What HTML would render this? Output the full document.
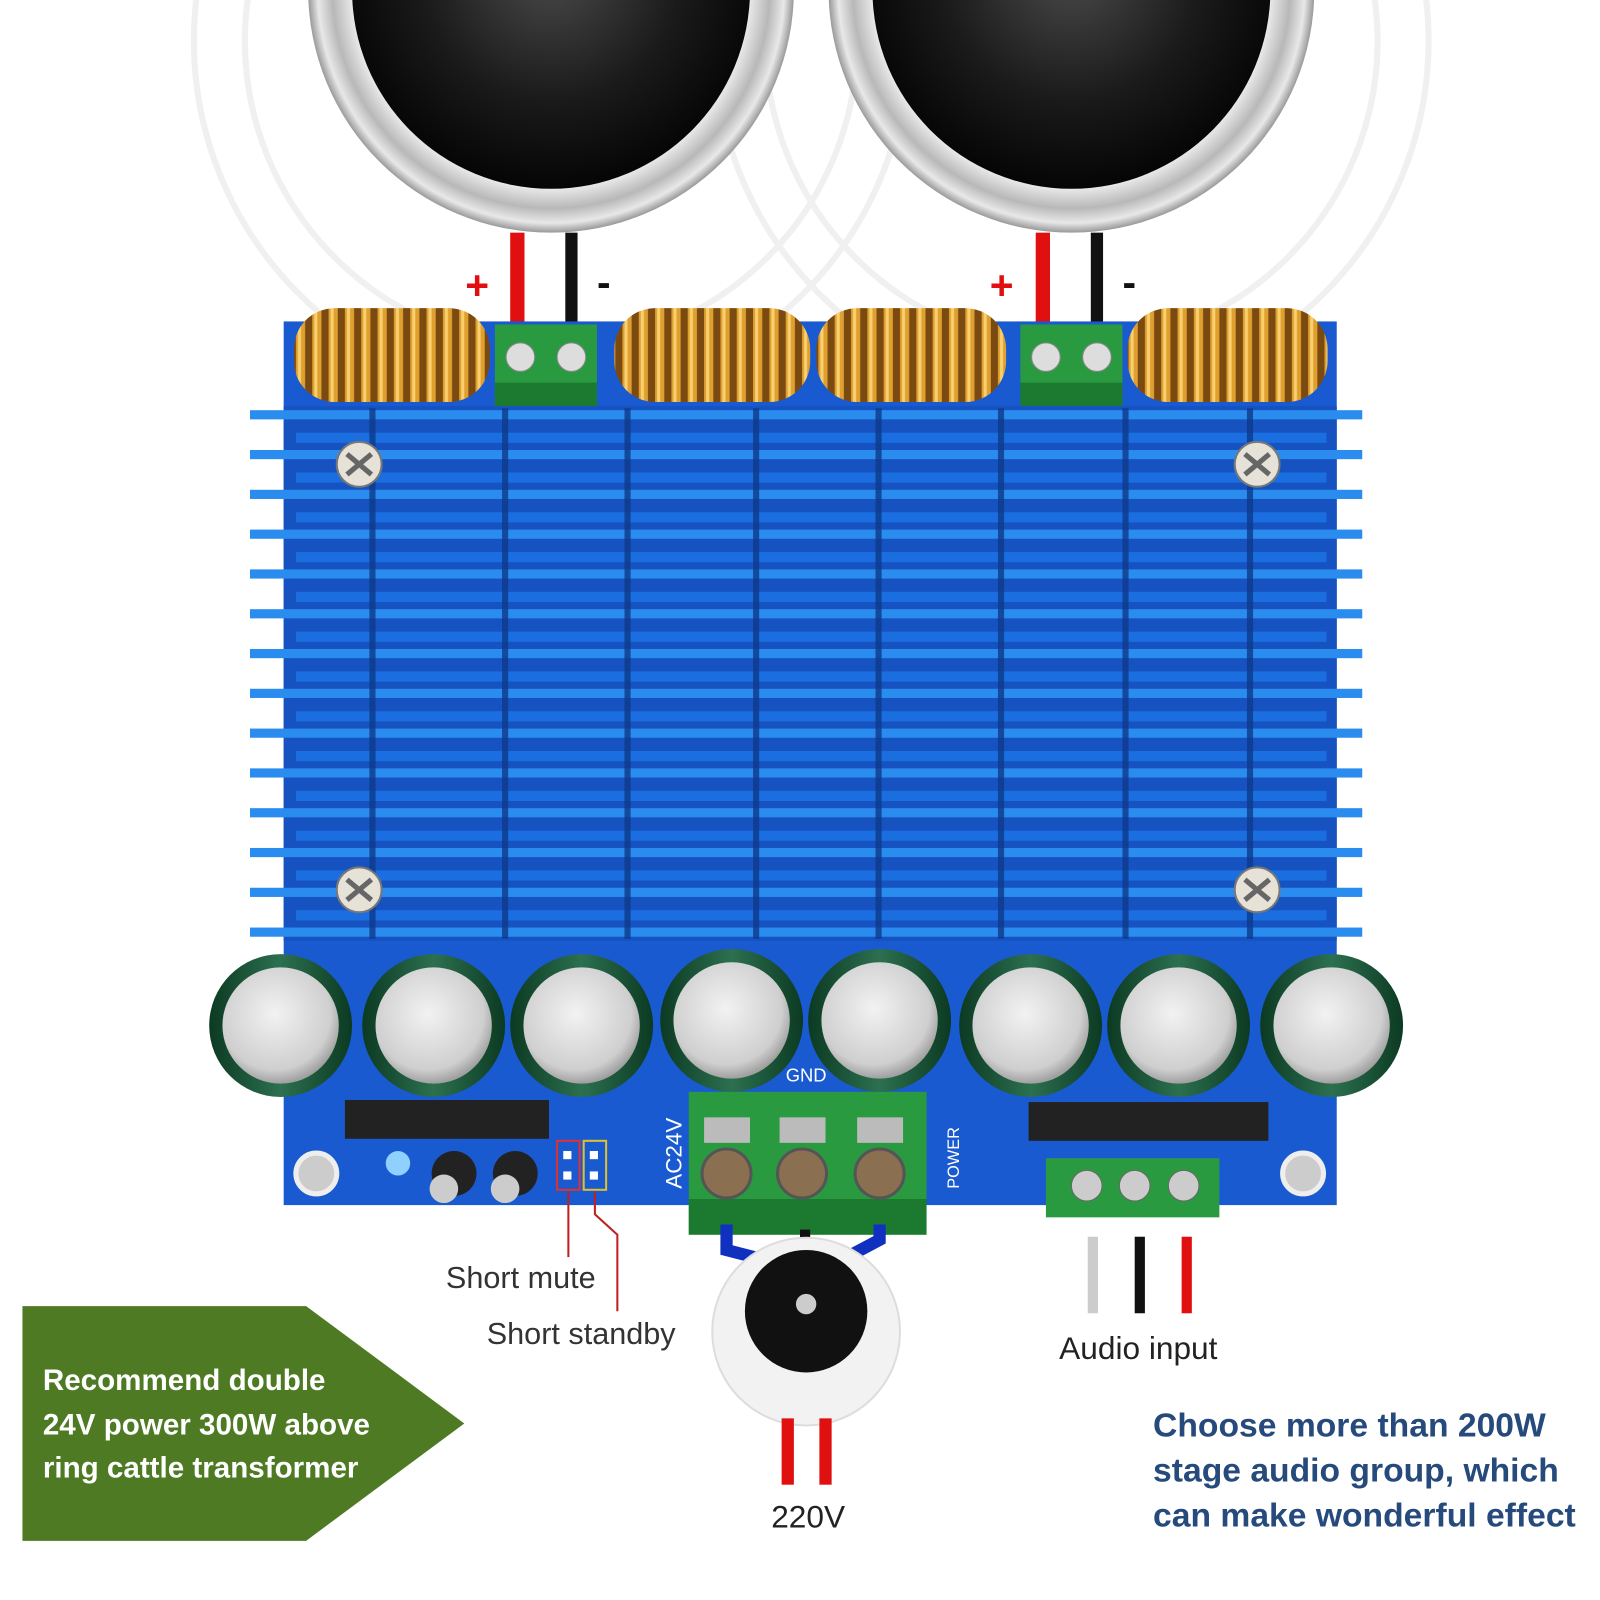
<!DOCTYPE html>
<html><head><meta charset="utf-8"><style>
html,body{margin:0;padding:0;background:#fff;}
svg{display:block;}
text{font-family:"Liberation Sans",sans-serif;}
</style></head><body>
<svg width="1600" height="1600" viewBox="0 0 1568 1568" xmlns="http://www.w3.org/2000/svg">
<defs>
<radialGradient id="cone" cx="50%" cy="45%" r="55%"><stop offset="0" stop-color="#4a4a4a"/><stop offset="0.6" stop-color="#1a1a1a"/><stop offset="1" stop-color="#050505"/></radialGradient>
<radialGradient id="ring" cx="50%" cy="50%" r="50%"><stop offset="0.8" stop-color="#f4f4f4"/><stop offset="0.9" stop-color="#b8b8b8"/><stop offset="0.96" stop-color="#e8e8e8"/><stop offset="1" stop-color="#999"/></radialGradient>
<radialGradient id="cap" cx="45%" cy="40%" r="60%"><stop offset="0" stop-color="#f2f2f2"/><stop offset="0.8" stop-color="#cfcfcf"/><stop offset="1" stop-color="#a0a0a0"/></radialGradient>
<linearGradient id="capside" x1="0" x2="1"><stop offset="0" stop-color="#0c3a22"/><stop offset="0.5" stop-color="#2c7050"/><stop offset="1" stop-color="#0c3a22"/></linearGradient>
<pattern id="coil" width="16" height="20" patternUnits="userSpaceOnUse"><rect width="16" height="20" fill="#7a4a10"/><rect x="2" width="9" height="20" fill="#e0a030"/><rect x="4" width="3" height="20" fill="#f8d070"/></pattern>
</defs>

<g fill="none" stroke="#f0f0f0" stroke-width="6">
<circle cx="540" cy="40" r="300"/><circle cx="540" cy="40" r="350"/>
<circle cx="1050" cy="40" r="300"/><circle cx="1050" cy="40" r="350"/>
</g>

<circle cx="540" cy="-10" r="238" fill="url(#ring)"/>
<circle cx="540" cy="-10" r="195" fill="url(#cone)"/>
<circle cx="1050" cy="-10" r="238" fill="url(#ring)"/>
<circle cx="1050" cy="-10" r="195" fill="url(#cone)"/>

<rect x="500" y="228" width="14" height="92" fill="#e01010"/>
<rect x="554" y="228" width="12" height="92" fill="#111"/>
<rect x="1015" y="228" width="14" height="92" fill="#e01010"/>
<rect x="1069" y="228" width="12" height="92" fill="#111"/>
<text x="456" y="293" font-size="40" fill="#e01010" font-weight="bold">+</text>
<text x="585" y="290" font-size="40" fill="#111" font-weight="bold">-</text>
<text x="970" y="293" font-size="40" fill="#e01010" font-weight="bold">+</text>
<text x="1100" y="290" font-size="40" fill="#111" font-weight="bold">-</text>

<rect x="278" y="315" width="1032" height="866" fill="#1a5ad0"/>

<rect x="288" y="302" width="192" height="92" rx="40" fill="url(#coil)"/>
<rect x="602" y="302" width="192" height="92" rx="40" fill="url(#coil)"/>
<rect x="800" y="302" width="186" height="92" rx="40" fill="url(#coil)"/>
<rect x="1105" y="302" width="196" height="92" rx="40" fill="url(#coil)"/>

<rect x="485" y="318" width="100" height="80" fill="#2a9a40"/>
<rect x="485" y="375" width="100" height="23" fill="#1c7a30"/>
<circle cx="510" cy="350" r="14" fill="#ddd" stroke="#888"/><circle cx="560" cy="350" r="14" fill="#ddd" stroke="#888"/>
<rect x="1000" y="318" width="100" height="80" fill="#2a9a40"/>
<rect x="1000" y="375" width="100" height="23" fill="#1c7a30"/>
<circle cx="1025" cy="350" r="14" fill="#ddd" stroke="#888"/><circle cx="1075" cy="350" r="14" fill="#ddd" stroke="#888"/>

<rect x="278" y="398" width="1032" height="524" fill="#1652c0"/>
<g fill="#2b8cf0">
<rect x="245" y="402" width="1090" height="9"/><rect x="245" y="441" width="1090" height="9"/><rect x="245" y="480" width="1090" height="9"/><rect x="245" y="519" width="1090" height="9"/><rect x="245" y="558" width="1090" height="9"/><rect x="245" y="597" width="1090" height="9"/><rect x="245" y="636" width="1090" height="9"/><rect x="245" y="675" width="1090" height="9"/><rect x="245" y="714" width="1090" height="9"/><rect x="245" y="753" width="1090" height="9"/><rect x="245" y="792" width="1090" height="9"/><rect x="245" y="831" width="1090" height="9"/><rect x="245" y="870" width="1090" height="9"/><rect x="245" y="909" width="1090" height="9"/>
</g>
<g fill="#1a6ee0">
<rect x="290" y="424" width="1010" height="10"/><rect x="290" y="463" width="1010" height="10"/><rect x="290" y="502" width="1010" height="10"/><rect x="290" y="541" width="1010" height="10"/><rect x="290" y="580" width="1010" height="10"/><rect x="290" y="619" width="1010" height="10"/><rect x="290" y="658" width="1010" height="10"/><rect x="290" y="697" width="1010" height="10"/><rect x="290" y="736" width="1010" height="10"/><rect x="290" y="775" width="1010" height="10"/><rect x="290" y="814" width="1010" height="10"/><rect x="290" y="853" width="1010" height="10"/><rect x="290" y="892" width="1010" height="10"/>
</g>
<g fill="#0e3a8a" opacity="0.8">
<rect x="362" y="400" width="6" height="520"/><rect x="492" y="400" width="6" height="520"/><rect x="612" y="400" width="6" height="520"/><rect x="738" y="400" width="6" height="520"/><rect x="858" y="400" width="6" height="520"/><rect x="978" y="400" width="6" height="520"/><rect x="1100" y="400" width="6" height="520"/><rect x="1222" y="400" width="6" height="520"/>
</g>
<g fill="#e6e2d8" stroke="#777" stroke-width="2">
<circle cx="352" cy="455" r="22"/><circle cx="1232" cy="455" r="22"/><circle cx="352" cy="872" r="22"/><circle cx="1232" cy="872" r="22"/>
</g>
<g stroke="#666" stroke-width="5">
<path d="M340 445 L364 465 M364 445 L340 465"/><path d="M1220 445 L1244 465 M1244 445 L1220 465"/><path d="M340 862 L364 882 M364 862 L340 882"/><path d="M1220 862 L1244 882 M1244 862 L1220 882"/>
</g>

<g transform="translate(275,1005)"><circle r="70" fill="url(#capside)"/><circle r="57" fill="url(#cap)"/></g>
<g transform="translate(425,1005)"><circle r="70" fill="url(#capside)"/><circle r="57" fill="url(#cap)"/></g>
<g transform="translate(570,1005)"><circle r="70" fill="url(#capside)"/><circle r="57" fill="url(#cap)"/></g>
<g transform="translate(717,1000)"><circle r="70" fill="url(#capside)"/><circle r="57" fill="url(#cap)"/></g>
<g transform="translate(862,1000)"><circle r="70" fill="url(#capside)"/><circle r="57" fill="url(#cap)"/></g>
<g transform="translate(1010,1005)"><circle r="70" fill="url(#capside)"/><circle r="57" fill="url(#cap)"/></g>
<g transform="translate(1155,1005)"><circle r="70" fill="url(#capside)"/><circle r="57" fill="url(#cap)"/></g>
<g transform="translate(1305,1005)"><circle r="70" fill="url(#capside)"/><circle r="57" fill="url(#cap)"/></g>

<rect x="338" y="1078" width="200" height="38" fill="#222"/>
<rect x="1008" y="1080" width="235" height="38" fill="#222"/>
<circle cx="310" cy="1150" r="20" fill="#ccc" stroke="#eee" stroke-width="5"/>
<circle cx="1277" cy="1150" r="20" fill="#ccc" stroke="#eee" stroke-width="5"/>
<circle cx="390" cy="1140" r="12" fill="#8fd0ff"/>
<circle cx="445" cy="1150" r="22" fill="#222"/><circle cx="435" cy="1165" r="14" fill="#ccc"/>
<circle cx="505" cy="1150" r="22" fill="#222"/><circle cx="495" cy="1165" r="14" fill="#ccc"/>
<rect x="546" y="1118" width="22" height="48" fill="none" stroke="#e03030" stroke-width="2"/>
<rect x="572" y="1118" width="22" height="48" fill="none" stroke="#e0c030" stroke-width="2"/>
<rect x="552" y="1128" width="8" height="8" fill="#fff"/><rect x="552" y="1148" width="8" height="8" fill="#fff"/>
<rect x="578" y="1128" width="8" height="8" fill="#fff"/><rect x="578" y="1148" width="8" height="8" fill="#fff"/>
<text x="790" y="1060" font-size="18" fill="#fff" text-anchor="middle">GND</text>
<text transform="translate(668,1165) rotate(-90)" font-size="22" fill="#fff">AC24V</text>
<text transform="translate(940,1165) rotate(-90)" font-size="16" fill="#fff">POWER</text>

<rect x="675" y="1070" width="233" height="140" fill="#2a9a40"/>
<rect x="675" y="1175" width="233" height="35" fill="#1c7a30"/>
<g fill="#8a7050" stroke="#555" stroke-width="3">
<circle cx="712" cy="1150" r="24"/><circle cx="786" cy="1150" r="24"/><circle cx="862" cy="1150" r="24"/>
</g>
<rect x="690" y="1095" width="45" height="25" fill="#bbb"/><rect x="764" y="1095" width="45" height="25" fill="#bbb"/><rect x="840" y="1095" width="45" height="25" fill="#bbb"/>

<rect x="1025" y="1135" width="170" height="58" fill="#2a9a40"/>
<circle cx="1065" cy="1162" r="15" fill="#ccc" stroke="#666"/><circle cx="1112" cy="1162" r="15" fill="#ccc" stroke="#666"/><circle cx="1160" cy="1162" r="15" fill="#ccc" stroke="#666"/>

<path d="M712 1200 L712 1225 L770 1240" fill="none" stroke="#1030c0" stroke-width="12"/>
<path d="M862 1200 L862 1215 L815 1240" fill="none" stroke="#1030c0" stroke-width="12"/>
<rect x="784" y="1205" width="10" height="40" fill="#111"/>

<circle cx="790" cy="1305" r="92" fill="#f2f2f2" stroke="#ddd" stroke-width="2"/>
<circle cx="790" cy="1285" r="60" fill="#111"/>
<circle cx="790" cy="1278" r="10" fill="#ccc"/>
<rect x="766" y="1390" width="12" height="65" fill="#e01010"/>
<rect x="803" y="1390" width="12" height="65" fill="#e01010"/>
<text x="792" y="1497" font-size="31" fill="#222" text-anchor="middle">220V</text>

<path d="M557 1168 L557 1232" stroke="#c02020" stroke-width="2" fill="none"/>
<path d="M583 1168 L583 1190 L605 1210 L605 1285" stroke="#c02020" stroke-width="2" fill="none"/>
<text x="437" y="1262" font-size="30" fill="#333">Short mute</text>
<text x="477" y="1317" font-size="30" fill="#333">Short standby</text>

<rect x="1066" y="1212" width="10" height="75" fill="#ccc"/>
<rect x="1112" y="1212" width="10" height="75" fill="#111"/>
<rect x="1158" y="1212" width="10" height="75" fill="#e01010"/>
<text x="1038" y="1332" font-size="31" fill="#222">Audio input</text>

<polygon points="22,1280 300,1280 455,1395 300,1510 22,1510" fill="#4d7a22"/>
<g font-size="29" font-weight="bold" fill="#fff">
<text x="42" y="1362">Recommend double</text>
<text x="42" y="1406">24V power 300W above</text>
<text x="42" y="1448">ring cattle transformer</text>
</g>

<g font-size="33" font-weight="bold" fill="#264a7c">
<text x="1130" y="1408">Choose more than 200W</text>
<text x="1130" y="1452">stage audio group, which</text>
<text x="1130" y="1496">can make wonderful effect</text>
</g>
</svg>
</body></html>
